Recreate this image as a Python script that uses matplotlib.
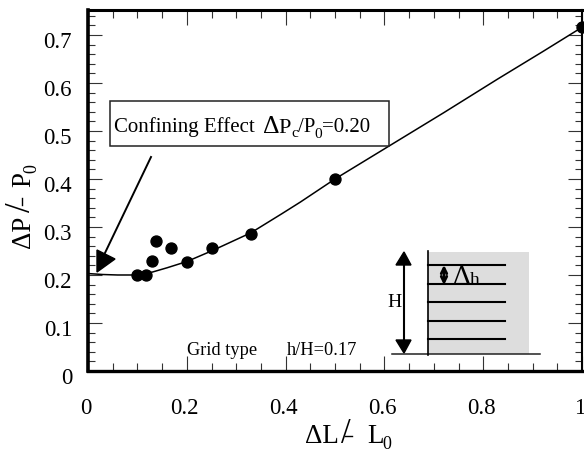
import matplotlib
matplotlib.use("Agg")
import matplotlib.pyplot as plt
from matplotlib.patches import Polygon, Rectangle
from matplotlib.ticker import FixedLocator, MultipleLocator
from matplotlib.transforms import ScaledTranslation

plt.rcParams['font.family'] = ['Liberation Serif', 'DejaVu Serif']

# measured points
point_x = [0.099, 0.118, 0.129, 0.138, 0.168, 0.2, 0.25, 0.329, 0.501, 1.0]
point_y = [0.2, 0.2, 0.229, 0.271, 0.257, 0.228, 0.257, 0.285, 0.4, 0.716]

# fitted curve
curve_x = [0, 0.03, 0.06, 0.09, 0.13, 0.16, 0.2, 0.25, 0.33, 0.393, 0.43, 0.5, 0.61, 0.72, 0.829, 0.92, 1.0]
curve_y = [0.203, 0.201, 0.2, 0.2, 0.206, 0.215, 0.228, 0.25, 0.288, 0.328, 0.352, 0.4, 0.469, 0.538, 0.608, 0.665, 0.716]

x_ticks = [0, 0.2, 0.4, 0.6, 0.8, 1]
x_labels = ['0', '0.2', '0.4', '0.6', '0.8', '1']
y_ticks = [0, 0.1, 0.2, 0.3, 0.4, 0.5, 0.6, 0.7]
y_labels = ['0', '0.1', '0.2', '0.3', '0.4', '0.5', '0.6', '0.7']

# grid sketch, in image pixels
layer_y = [266, 285, 303, 322, 340]

fig = plt.figure(figsize=(5.84, 4.52), dpi=100)
ax = fig.add_axes([88 / 584, 1 - 372 / 452, (582 - 88) / 584, (372 - 11) / 452])

ax.plot(curve_x, curve_y, color='black', lw=1.1)
ax.plot(point_x, point_y, 'o', color='black', ms=7.9, clip_on=False, zorder=5)

ax.set_xlim(0, 1)
ax.set_ylim(0, 0.752)
ax.xaxis.set_major_locator(FixedLocator(x_ticks))
ax.set_xticklabels(x_labels)
ax.yaxis.set_major_locator(FixedLocator(y_ticks))
ax.set_yticklabels(y_labels)
ax.xaxis.set_minor_locator(MultipleLocator(0.05))
ax.yaxis.set_minor_locator(MultipleLocator(0.02))
ax.tick_params(which='both', direction='in', width=0.8, color='#333333', top=True, right=True)
ax.tick_params(axis='x', which='major', length=11, pad=19, labelsize=16.5)
ax.tick_params(axis='x', which='minor', length=6)
ax.tick_params(axis='y', which='major', length=10, pad=11.5, labelsize=16.5)
ax.tick_params(axis='y', which='minor', length=5)

ax.spines['left'].set_linewidth(2.6)
ax.spines['bottom'].set_linewidth(2.4)
ax.spines['top'].set_linewidth(2.2)
ax.spines['right'].set_linewidth(1.5)

# labels sit a bit off their ticks in the original
for lab in ax.get_yticklabels():
    lab.set_transform(lab.get_transform() + ScaledTranslation(0, -0.04, fig.dpi_scale_trans))
for lab in ax.get_xticklabels():
    lab.set_transform(lab.get_transform() + ScaledTranslation(-0.02, 0, fig.dpi_scale_trans))

# overlay in image pixels for the notes and the sketch
over = fig.add_axes([0, 0, 1, 1])
over.set_xlim(0, 584)
over.set_ylim(452, 0)
over.axis('off')
over.patch.set_alpha(0)

# confining effect box and arrow
over.add_patch(Rectangle((110, 102), 279, 45, fc='white', ec='#222222', lw=1.1))
over.text(114, 132.5, 'Confining Effect', fontsize=15, va='baseline')
over.text(263, 133, '\u0394', fontsize=18.5, va='baseline')
over.text(278.5, 133, 'P', fontsize=16, va='baseline')
over.text(291, 137, 'c', fontsize=11, va='baseline')
over.text(298, 132.5, '/P', fontsize=15, va='baseline')
over.text(314, 138, '0', fontsize=11, va='baseline')
over.text(322, 132.5, '=0.20', fontsize=15, va='baseline')
over.plot([151, 104], [158, 256], color='black', lw=1.4)
over.add_patch(Polygon([(97, 251), (115, 260), (97, 273)], fc='black', ec='black'))

# grid sketch
over.add_patch(Rectangle((428, 253), 101, 102, fc='#dddddd', ec='none'))
over.plot([392, 540], [355, 355], color='#222222', lw=1.1)
over.plot([428, 428], [252, 356], color='black', lw=1.2)
for ly in layer_y:
    over.plot([428, 505], [ly, ly], color='black', lw=1.5)
over.plot([404, 404], [262, 345], color='black', lw=1.5)
over.add_patch(Polygon([(404, 253), (396, 266), (411, 266)], fc='black', ec='black'))
over.add_patch(Polygon([(404, 354), (396, 341), (411, 341)], fc='black', ec='black'))
over.annotate('', xy=(444, 266), xytext=(444, 286),
              arrowprops=dict(arrowstyle='<->', color='black', lw=2, shrinkA=0, shrinkB=0, mutation_scale=10))
over.text(395, 303, 'H', fontsize=14, ha='center', va='center')
over.text(453, 284, '\u0394', fontsize=20, va='baseline')
over.text(469.5, 285, 'h', fontsize=14, va='baseline')
over.text(187, 355.5, 'Grid type', fontsize=13.2, va='baseline')
over.text(287, 355.5, 'h/H=0.17', fontsize=13.2, va='baseline')

# axis titles
over.text(305, 443, '\u0394L', fontsize=19.5, va='baseline')
over.text(341, 443, '/', fontsize=25, va='baseline')
over.plot([345, 352], [437, 437], color='black', lw=1.0)
over.text(367, 443, 'L', fontsize=19.5, va='baseline')
over.text(382, 449.5, '0', fontsize=13, va='baseline')

over.text(30, 248, '\u0394P', fontsize=19.5, rotation=90, va='baseline', ha='left', rotation_mode='anchor')
over.text(30, 212, '/', fontsize=25, rotation=90, va='baseline', ha='left', rotation_mode='anchor')
over.plot([22, 22], [199, 206], color='black', lw=1.0)
over.text(30, 187, 'P', fontsize=19.5, rotation=90, va='baseline', ha='left', rotation_mode='anchor')
over.text(36, 173, '0', fontsize=13, rotation=90, va='baseline', ha='left', rotation_mode='anchor')

fig.savefig('out.png', dpi=100)
